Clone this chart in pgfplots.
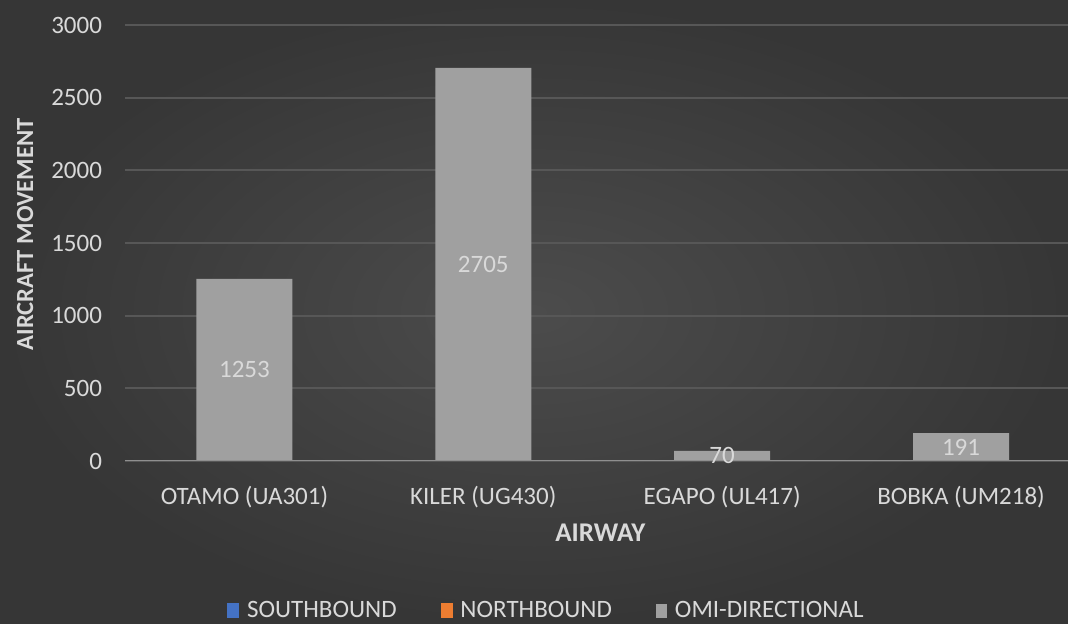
\documentclass[border=0pt]{standalone}
\usepackage{pgfplots}
\pgfplotsset{compat=1.18}
\usepackage{fontspec}
\setmainfont{Carlito}
\definecolor{bgin}{HTML}{4C4C4C}
\definecolor{bgout}{HTML}{363636}
\definecolor{txt}{HTML}{D9D9D9}
\definecolor{gridc}{HTML}{575757}
\definecolor{barc}{HTML}{A0A0A0}
\definecolor{basec}{HTML}{8F8F8F}
\definecolor{southc}{HTML}{4472C4}
\definecolor{northc}{HTML}{ED7D31}
\newcommand\lblfont{\fontsize{12.5}{15}\selectfont}
\pgfplotstableread{
x y
0 1253
1 2705
2 70
3 191
}\omni
\begin{document}
\begin{tikzpicture}
\shade[inner color=bgin, outer color=bgout] (0,0) rectangle (534pt,312pt);
\useasboundingbox (0,0) rectangle (534pt,312pt);
\begin{axis}[
  at={(62.5pt,81.5pt)}, anchor=south west,
  scale only axis, width=471.5pt, height=218pt,
  xmin=-0.5, xmax=3.448, ymin=0, ymax=3000,
  ytick={0,500,...,3000},
  xtick={0,1,2,3},
  xticklabels={OTAMO (UA301), KILER (UG430), EGAPO (UL417), BOBKA (UM218)},
  major tick length=0pt,
  axis line style={draw=none},
  ymajorgrids, grid style={gridc, line width=1pt},
  /pgf/number format/assume math mode=true,
  /pgf/number format/1000 sep={},
  tick label style={font=\lblfont, text=txt},
  yticklabel style={xshift=-8pt},
  xticklabel style={yshift=-9pt},
  xlabel={AIRWAY}, ylabel={AIRCRAFT MOVEMENT},
  label style={text=txt},
  xlabel style={font=\fontsize{13.5}{16}\selectfont\bfseries,
    at={(axis description cs:0.504,-0.165)}, anchor=center},
  ylabel style={font=\fontsize{12.3}{15}\selectfont\bfseries,
    at={(axis description cs:-0.106,0.52)}, anchor=center},
  legend style={at={(axis description cs:0.448,-0.343)}, anchor=center,
    draw=none, fill=none, text=txt, font=\lblfont,
    legend columns=3,
    /tikz/every odd column/.append style={column sep=2pt},
    /tikz/every even column/.append style={column sep=20pt}},
  key/.style={legend image code/.code={\fill[#1] (0pt,-3.5pt) rectangle (5.5pt,3.5pt);}},
]
\addlegendimage{key=southc}
\addlegendentry{SOUTHBOUND}
\addlegendimage{key=northc}
\addlegendentry{NORTHBOUND}
\addplot[ybar, bar width=48pt, fill=barc, draw=none, key=barc,
  nodes near coords,
  visualization depends on={\thisrow{y}/2 \as \half},
  every node near coord/.append style={font=\lblfont, text=txt, anchor=center,
    shift={(axis direction cs:0,-\half)}}]
  table[x=x, y=y] {\omni};
\addlegendentry{OMI-DIRECTIONAL}
\draw[basec, line width=1pt] (axis cs:-0.5,0) -- (axis cs:3.448,0);
\end{axis}
\end{tikzpicture}
\end{document}
